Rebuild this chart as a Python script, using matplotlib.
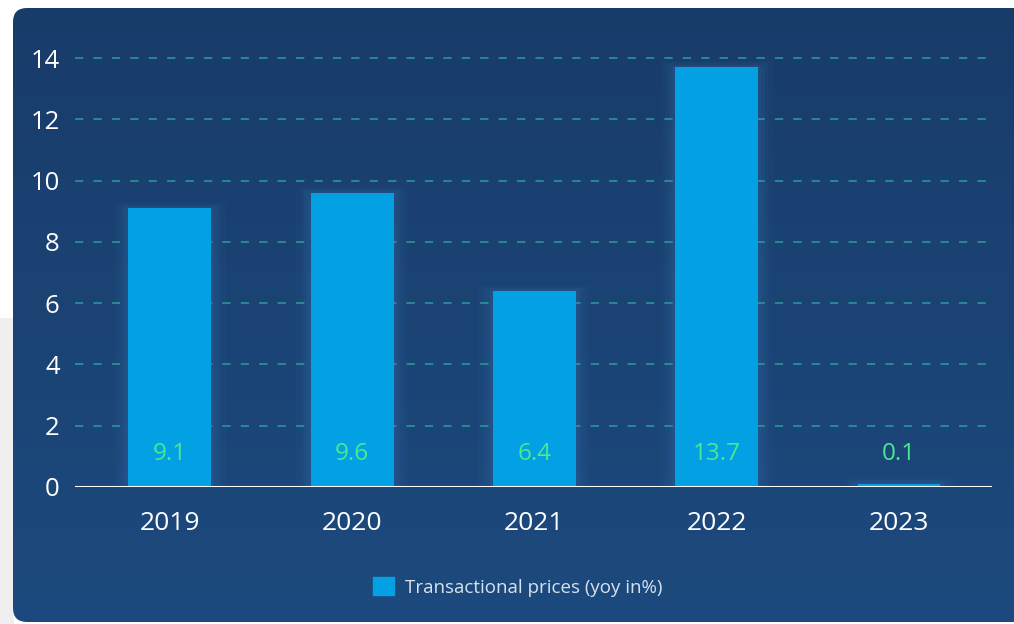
import numpy as np
import matplotlib
matplotlib.use("Agg")
import matplotlib.pyplot as plt
from matplotlib.patches import FancyBboxPatch, Rectangle

plt.rcParams["font.family"] = ["Open Sans", "DejaVu Sans"]

years = ["2019", "2020", "2021", "2022", "2023"]
prices = [9.1, 9.6, 6.4, 13.7, 0.1]
y_ticks = [0, 2, 4, 6, 8, 10, 12, 14]
legend_label = "Transactional prices (yoy in%)"

bar_color = "#04a0e4"
label_color = "#4ae890"
grid_color = "#2a8f92"

W, H = 1014, 624
fig = plt.figure(figsize=(W / 100, H / 100), dpi=100, facecolor="white")

# background layer in pixel coordinates
bg = fig.add_axes([0, 0, 1, 1], zorder=0)
bg.set_xlim(0, W)
bg.set_ylim(H, 0)
bg.axis("off")

# light grey strip on the lower left of the page
bg.add_patch(Rectangle((0, 318), 14, H - 318, facecolor="#efeff0", edgecolor="none", zorder=0))

# dark blue panel with a vertical gradient, clipped to a rounded box
panel = FancyBboxPatch((13, 8), W + 40, 614, boxstyle="round,pad=0,rounding_size=14",
                       facecolor="none", edgecolor="none")
bg.add_patch(panel)
top = np.array([0x18, 0x3c, 0x6a]) / 255
bot = np.array([0x1d, 0x4a, 0x7e]) / 255
t = np.linspace(0, 1, 256)[:, None]
grad = (top[None, :] * (1 - t) + bot[None, :] * t)[:, None, :]
im = bg.imshow(grad, extent=(0, W, H, 0), aspect="auto", zorder=1)
im.set_clip_path(panel)

ax = fig.add_axes([75 / W, 1 - 487 / H, (992 - 75) / W, (487 - 55) / H], zorder=1)
ax.set_facecolor("none")

x = np.arange(len(years))
bw = 0.455

# soft glow around the bars
for k, a in zip([0.16, 0.11, 0.07, 0.035], [0.04, 0.05, 0.06, 0.07]):
    ax.bar(x, [p + k * 1.2 for p in prices], width=bw + k, color="#4a8fd0", alpha=a,
           zorder=1, linewidth=0)

ax.bar(x, prices, width=bw, color=bar_color, zorder=3, linewidth=0)

for xi, p in zip(x, prices):
    ax.text(xi, 1.08, f"{p:.1f}", ha="center", va="center", color=label_color,
            fontsize=17.5, zorder=4)

ax.set_xlim(-0.52, 4.51)
ax.set_ylim(0, 14.1)
ax.set_yticks(y_ticks)
ax.set_xticks(x)
ax.set_xticklabels(years)
ax.tick_params(axis="both", length=0, colors="white")
ax.tick_params(axis="y", pad=11, labelsize=18.5)
ax.tick_params(axis="x", pad=17, labelsize=19)

for yv in y_ticks[1:]:
    ax.axhline(yv, color=grid_color, lw=1.3, ls=(0, (4.6, 5.6)), zorder=0)
ax.axhline(0, color="white", lw=2.2, zorder=5)

for s in ax.spines.values():
    s.set_visible(False)

leg = fig.legend(handles=[Rectangle((0, 0), 1, 1, color=bar_color)], labels=[legend_label],
                 loc="center", bbox_to_anchor=(518 / W, 1 - 587 / H), frameon=False,
                 fontsize=13.5, handlelength=1.1, handleheight=1.1, handletextpad=0.6)
for txt in leg.get_texts():
    txt.set_color("#d8e2ee")

fig.savefig("out.png", dpi=100, facecolor="white")
